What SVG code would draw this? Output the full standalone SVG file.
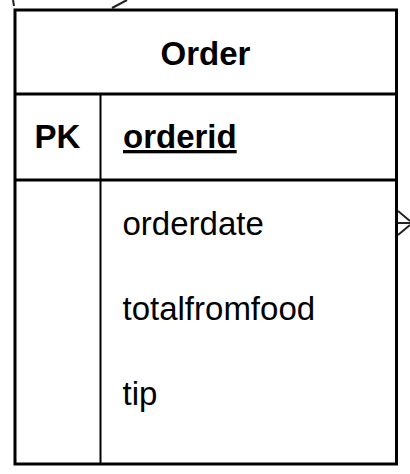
<svg xmlns="http://www.w3.org/2000/svg" width="410" height="474" viewBox="0 0 410 474">
<style>
.t{font-family:"Liberation Sans",Arial,sans-serif;font-size:33px;fill:#000}
.b{font-weight:bold}
.ln{stroke:#000;fill:none}
.cn{stroke:#222;stroke-width:2;fill:none}
</style>
<rect width="410" height="474" fill="#fff"/>
<g id="connectors">
<line class="cn" x1="112" y1="8" x2="127" y2="0"/>
<line class="cn" x1="13" y1="0" x2="14" y2="6"/>
<path class="cn" d="M398 211 L410 221 M398 223 L410 223 M398 235 L410 225"/>
</g>
<g id="order">
<rect class="ln" x="15" y="10" width="381.5" height="454" stroke-width="3"/>
<line class="ln" x1="15" y1="94" x2="396.5" y2="94" stroke-width="3"/>
<line class="ln" x1="15" y1="180" x2="396.5" y2="180" stroke-width="3"/>
<line class="ln" x1="100.5" y1="94" x2="100.5" y2="464" stroke-width="2"/>
<text class="t b" x="205.5" y="65" text-anchor="middle">Order</text>
<text class="t b" x="57.5" y="148" text-anchor="middle">PK</text>
<text class="t b" x="123" y="148" text-decoration="underline">orderid</text>
<text class="t" x="122.5" y="235">orderdate</text>
<text class="t" x="122.5" y="320">totalfromfood</text>
<text class="t" x="122.5" y="405">tip</text>
</g>
</svg>
